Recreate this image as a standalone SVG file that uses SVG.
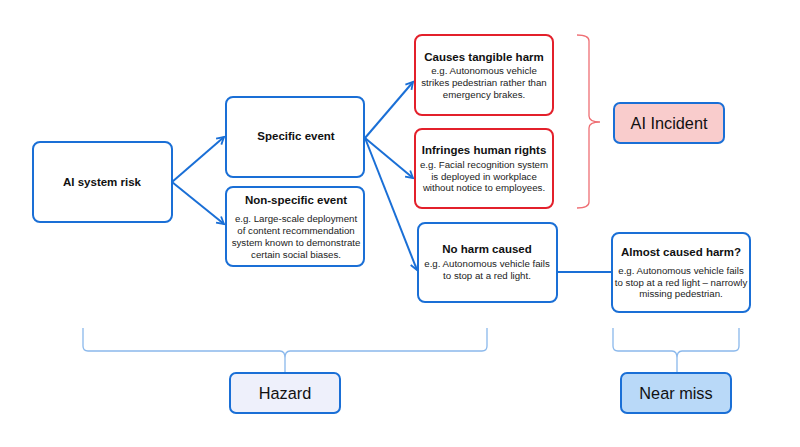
<svg xmlns="http://www.w3.org/2000/svg" width="800" height="447" viewBox="0 0 800 447">
<defs>
<marker id="arr" markerWidth="10" markerHeight="10" refX="8" refY="5" orient="auto" markerUnits="userSpaceOnUse">
<path d="M1,1 L8,5 L1,9" fill="none" stroke="#1a6fd6" stroke-width="1.8"/>
</marker>
<style>
.box{fill:#fff;stroke:#1a6fd6;stroke-width:2}
.red{fill:#fff;stroke:#e3202b;stroke-width:2}
.t{font-family:"Liberation Sans",Arial,sans-serif;font-weight:bold;font-size:11.5px;fill:#111;text-anchor:middle}
.b{font-family:"Liberation Sans",Arial,sans-serif;font-size:9.7px;fill:#222;text-anchor:middle}
.big{font-family:"Liberation Sans",Arial,sans-serif;font-size:16.3px;fill:#111;text-anchor:middle}
.con{fill:none;stroke:#1a6fd6;stroke-width:2}
.brace{fill:none;stroke:#8ab8ec;stroke-width:1.3}
</style>
</defs>
<rect width="800" height="447" fill="#fff"/>
<g id="connectors">
<path class="con" d="M172,182 L224,137" marker-end="url(#arr)"/>
<path class="con" d="M172,182 L224,224" marker-end="url(#arr)"/>
<path class="con" d="M365,138 L413,82" marker-end="url(#arr)"/>
<path class="con" d="M365,138 L413,178" marker-end="url(#arr)"/>
<path class="con" d="M365,138 L417,270" marker-end="url(#arr)"/>
<path class="con" d="M557,272 L612,272"/>
</g>
<g id="ai-system-risk">
<rect class="box" x="33" y="142" width="139" height="80" rx="7"/>
<text class="t" x="102" y="186">AI system risk</text>
</g>
<g id="specific-event">
<rect class="box" x="226" y="97" width="138" height="80" rx="7"/>
<text class="t" x="296" y="140">Specific event</text>
</g>
<g id="non-specific-event">
<rect class="box" x="226" y="187" width="138" height="79" rx="7"/>
<text class="t" x="296" y="203.5">Non-specific event</text>
<text class="b" x="296" y="221.5">e.g. Large-scale deployment</text>
<text class="b" x="296" y="233.5">of content recommendation</text>
<text class="b" x="296" y="246">system known to demonstrate</text>
<text class="b" x="296" y="257.5">certain social biases.</text>
</g>
<g id="causes-tangible-harm">
<rect class="red" x="415" y="35" width="138" height="80" rx="7"/>
<text class="t" x="484" y="61">Causes tangible harm</text>
<text class="b" x="484" y="73.5">e.g. Autonomous vehicle</text>
<text class="b" x="484" y="85.5">strikes pedestrian rather than</text>
<text class="b" x="484" y="97.5">emergency brakes.</text>
</g>
<g id="infringes-human-rights">
<rect class="red" x="415" y="129" width="138" height="79" rx="7"/>
<text class="t" x="484" y="154">Infringes human rights</text>
<text class="b" x="484" y="167.5">e.g. Facial recognition system</text>
<text class="b" x="484" y="179.5">is deployed in workplace</text>
<text class="b" x="484" y="191">without notice to employees.</text>
</g>
<g id="no-harm-caused">
<rect class="box" x="418" y="223" width="139" height="79" rx="7"/>
<text class="t" x="487" y="253">No harm caused</text>
<text class="b" x="487" y="266.5">e.g. Autonomous vehicle fails</text>
<text class="b" x="487" y="279">to stop at a red light.</text>
</g>
<g id="almost-caused-harm">
<rect class="box" x="612" y="233" width="138" height="79" rx="7"/>
<text class="t" x="681" y="256">Almost caused harm?</text>
<text class="b" x="681" y="273.5">e.g. Autonomous vehicle fails</text>
<text class="b" x="681" y="285.5">to stop at a red light – narrowly</text>
<text class="b" x="681" y="297">missing pedestrian.</text>
</g>
<g id="incident-brace">
<path d="M577,35 Q589,35 589,41 L589,116 Q589,122 600,122 Q589,122 589,128 L589,202 Q589,208 577,208" fill="none" stroke="#ef6f74" stroke-width="1.3"/>
</g>
<g id="ai-incident">
<rect x="614" y="103" width="110" height="40" rx="6" fill="#f9cccc" stroke="#1a6fd6" stroke-width="2"/>
<text class="big" x="669" y="129">AI Incident</text>
</g>
<g id="hazard-brace">
<path class="brace" d="M83,328 L83,346 Q83,351 88,351 L280,351 Q285,351 285,358 L285,373 M285,358 Q285,351 290,351 L482,351 Q487,351 487,346 L487,328"/>
</g>
<g id="hazard">
<rect x="230" y="373" width="110" height="40" rx="6" fill="#eef0fb" stroke="#1a6fd6" stroke-width="2"/>
<text class="big" x="285" y="399">Hazard</text>
</g>
<g id="near-miss-brace">
<path class="brace" d="M613,328 L613,346 Q613,351 618,351 L672,351 Q677,351 677,358 L677,373 M677,358 Q677,351 682,351 L734,351 Q739,351 739,346 L739,328"/>
</g>
<g id="near-miss">
<rect x="621" y="373" width="110" height="40" rx="6" fill="#b9d9f8" stroke="#1a6fd6" stroke-width="2"/>
<text class="big" x="676" y="399">Near miss</text>
</g>
</svg>
